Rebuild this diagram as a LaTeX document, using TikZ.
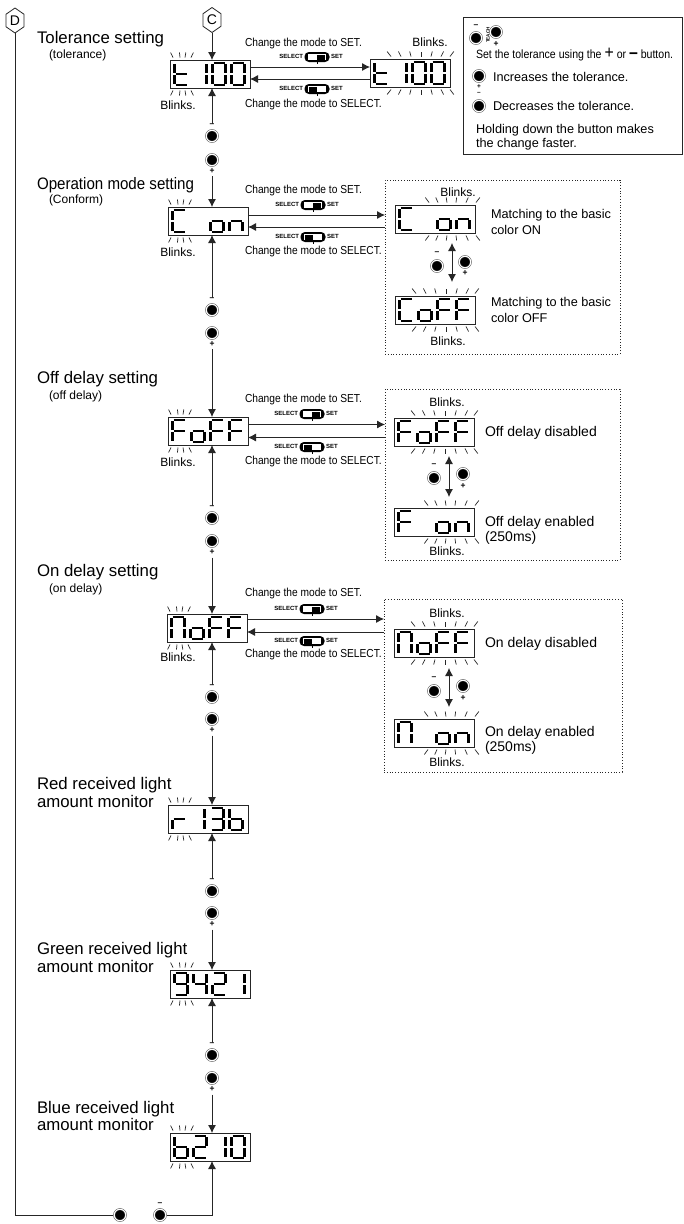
\documentclass[tikz,border=0pt]{standalone}
\usepackage{fontspec}
\setmainfont{Liberation Sans}
\newfontfamily\condfont[FakeStretch=0.88]{Liberation Sans}
\newfontfamily\condtitle[FakeStretch=0.91]{Liberation Sans}
\usetikzlibrary{arrows.meta,calc}
\tikzset{
 x=1pt,y=-1pt,
 base/.style={inner sep=0pt,outer sep=0pt},
 title/.style={base,anchor=west,font=\fontsize{16.8}{18}\selectfont},
 ctitle/.style={base,anchor=west,font=\condtitle\fontsize{16.6}{18}\selectfont},
 sub/.style={base,anchor=west,font=\fontsize{12}{14}\selectfont},
 cond/.style={base,anchor=west,font=\condfont\fontsize{11.6}{13}\selectfont},
 condb/.style={base,anchor=west,font=\condfont\fontsize{12}{13}\selectfont},
 blinks/.style={base,font=\fontsize{12}{14}\selectfont},
 desc/.style={base,anchor=west,font=\fontsize{12.7}{14}\selectfont},
 descb/.style={base,anchor=west,font=\fontsize{14}{15}\selectfont},
 sign/.style={base,font=\bfseries\fontsize{8.5}{8.5}\selectfont},
 signs/.style={base,font=\bfseries\fontsize{6.5}{6.5}\selectfont},
 swlab/.style={base,font=\bfseries\fontsize{6}{6}\selectfont},
 lcdbox/.style={base,draw=black!85,line width=.8pt,minimum width=80pt,minimum height=28pt,anchor=north west},
 lcdseg/.style={line width=2.3pt,black},
 raytick/.style={line width=.7pt,black!85},
 btn/.style={circle,fill=black,draw=black!70,double=white,double distance=1pt,line width=.5pt,minimum size=11.5pt,inner sep=0pt,outer sep=1pt},
 conn/.style={line width=.8pt,black!85},
 arr/.style={conn,-{Latex[length=8pt,width=8pt]}},
 darr/.style={conn,{Latex[length=8pt,width=8pt]}-{Latex[length=8pt,width=8pt]}},
 dotbox/.style={base,draw=black!85,line width=.8pt,dotted,anchor=north west},
 hexn/.style={base,minimum width=18pt,minimum height=25pt,font=\fontsize{14}{14}\selectfont},
}
% segments: x1 y1 x2 y2
\def\sega{1 -11 12 -11 }\def\segb{13 -10 13 -1 }\def\segc{13 1 13 10 }
\def\segd{1 11 12 11 }\def\sege{0 1 0 10 }\def\segf{0 -10 0 -1 }
\def\segg{1 0 12 0 }\def\segx{0 0 0 0 }
\def\segdraw#1 #2 #3 #4 \relax{\draw[lcdseg] (#1,#2)--(#3,#4);}
\newcommand\lcddigit[2]{\begin{scope}[shift={(#1,14)}]\foreach \s in #2 {\edef\tmp{\csname seg\s\endcsname}\expandafter\segdraw\tmp\relax}\end{scope}}
\def\chN{x}\def\cht{f,e,g,d}\def\chi{b,c}\def\chO{a,b,c,d,e,f}\def\chC{a,f,e,d}
\def\cho{g,c,d,e}\def\chn{e,g,c}\def\chF{a,f,g,e}\def\chP{a,f,b,e,c}\def\chr{e,g}
\def\chth{a,b,g,c,d}\def\chb{f,e,g,c,d}\def\chnine{a,b,c,d,f,g}\def\chfour{f,g,b,c}\def\chtwo{a,b,g,e,d}
\newcommand\lcd[7]{\node[lcdbox] (#1) at (#2,#3) {};
 \begin{scope}[shift={(#2,#3)}]\lcddigit{4.5}{#4}\lcddigit{23.5}{#5}\lcddigit{42.5}{#6}\lcddigit{61.5}{#7}\end{scope}}
% rays: name, x list, fan centre, slope
\newcommand\rays[4]{\foreach \rx in {#2}{\pgfmathsetmacro\dx{(\rx-#3)*#4}
 \draw[raytick] ($(#1.north west)+(\rx,-2.5)$) -- +(\dx,-5);
 \draw[raytick] ($(#1.south west)+(\rx,2.5)$) -- +(\dx,5);}}
\newcommand\raysL[1]{\rays{#1}{3,10,15,21}{12}{.27}}
\newcommand\raysW[1]{\rays{#1}{21,31,41,51,61,71,80}{51}{.13}}
\newcommand\raysS[1]{\rays{#1}{34,43,52,61,71,81}{57}{.16}}
\newcommand\hexagon[1]{\draw[line width=.8pt,black!85] (#1.north) -- ($(#1.north east)!.25!(#1.south east)$) -- ($(#1.north east)!.75!(#1.south east)$) -- (#1.south) -- ($(#1.south west)!.25!(#1.north west)$) -- ($(#1.south west)!.75!(#1.north west)$) -- cycle;}
\newcommand\swglyph[3]{\fill[black,rounded corners=4.4pt] (#1-12.5,#2-5) rectangle (#1+12.5,#2+5);
 \fill[white] (#1-9,#2-3) rectangle (#1+9,#2+3);
 \ifnum#3>0 \fill[black] (#1,#2-2.5) rectangle (#1+8,#2+2.5);\else \fill[black] (#1-8,#2-2.5) rectangle (#1,#2+2.5);\fi
 \draw[line width=.7pt,black] (#1,#2+4) -- (#1,#2+6.5);}
% mode labels: id, switch x, y text1, y sw1, y sw2, y text2
\newcommand\modelabels[6]{
 \node[cond] (#1ta) at (245,#3) {Change the mode to SET.};
 \swglyph{#2}{#4}{1}
 \node[swlab,anchor=east] (#1sa) at (#2-14,#4-1) {SELECT};
 \node[swlab,anchor=west] (#1ea) at (#2+14,#4-1) {SET};
 \swglyph{#2}{#5}{0}
 \node[swlab,anchor=east] (#1sb) at (#2-14,#5-1) {SELECT};
 \node[swlab,anchor=west] (#1eb) at (#2+14,#5-1) {SET};
 \node[cond] (#1tb) at (245,#6) {Change the mode to SELECT.};}
% button pair: id, y minus button, y plus button
\newcommand\btnpair[3]{
 \node[sign] (#1m) at (212,#2-11) {–};
 \node[btn] (#1a) at (212,#2) {};
 \node[btn] (#1b) at (212,#3) {};
 \node[sign] (#1p) at (212,#3+11) {+};}
% small button pair in a dotted box: id, x-, y-, x+, y+
\newcommand\smallbtn[5]{
 \node[btn] (#1a) at (#2,#3) {};
 \node[sign] (#1m) at (#2,#3-12.5) {–};
 \node[btn] (#1b) at (#4,#5) {};
 \node[sign] (#1p) at (#4,#5+11.5) {+};}
\begin{document}
\begin{tikzpicture}
\useasboundingbox (0,0) rectangle (683,1224);
\fill[white] (0,0) rectangle (683,1224);
% hexagons
\node[hexn] (D) at (15,20.5) {D}; \hexagon{D}
\node[hexn] (C) at (212,20) {C}; \hexagon{C}
% titles
\node[title] (ti1) at (37,39) {Tolerance setting};
\node[sub] (su1) at (49,55) {(tolerance)};
\node[ctitle] (ti2) at (37,185) {Operation mode setting};
\node[sub] (su2) at (49,200) {(Conform)};
\node[title] (ti3) at (37,379) {Off delay setting};
\node[sub] (su3) at (49,396) {(off delay)};
\node[title] (ti4) at (37,572) {On delay setting};
\node[sub] (su4) at (49,589) {(on delay)};
\node[title] (ti5) at (37,785) {Red received light};
\node[title] (ti5b) at (37,801) {amount monitor};
\node[title] (ti6) at (37,950) {Green received light};
\node[title] (ti6b) at (37,966) {amount monitor};
\node[title] (ti7) at (37,1109) {Blue received light};
\node[title] (ti7b) at (37,1124) {amount monitor};
% left displays
\lcd{d1}{170}{60}{\cht}{\chi}{\chO}{\chO}\raysL{d1}
\lcd{d2}{168}{207}{\chC}{\chN}{\cho}{\chn}\raysL{d2}
\lcd{d3}{168}{417}{\chF}{\cho}{\chF}{\chF}\raysL{d3}
\lcd{d4}{167}{614}{\chP}{\cho}{\chF}{\chF}\raysL{d4}
\lcd{d5}{168}{805}{\chr}{\chi}{\chth}{\chb}\raysL{d5}
\lcd{d6}{170}{970}{\chnine}{\chfour}{\chtwo}{\chi}\raysL{d6}
\lcd{d7}{170}{1133}{\chb}{\chtwo}{\chi}{\chO}\raysL{d7}
% right displays
\lcd{r1}{370}{59}{\cht}{\chi}{\chO}{\chO}\raysW{r1}
\lcd{r2}{395}{205}{\chC}{\chN}{\cho}{\chn}\raysS{r2}
\lcd{r2b}{395}{296}{\chC}{\cho}{\chF}{\chF}\raysW{r2b}
\lcd{r3}{394}{418}{\chF}{\cho}{\chF}{\chF}\raysW{r3}
\lcd{r3b}{394}{508}{\chF}{\chN}{\cho}{\chn}\raysS{r3b}
\lcd{r4}{394}{629}{\chP}{\cho}{\chF}{\chF}\raysW{r4}
\lcd{r4b}{394}{719}{\chP}{\chN}{\cho}{\chn}\raysS{r4b}
% blinks
\node[blinks] (bl1) at (178,105) {Blinks.};
\node[blinks] (bl1r) at (430,42) {Blinks.};
\node[blinks] (bl2) at (178,252) {Blinks.};
\node[blinks] (bl2a) at (458,192) {Blinks.};
\node[blinks] (bl2b) at (448,341) {Blinks.};
\node[blinks] (bl3) at (178,462) {Blinks.};
\node[blinks] (bl3a) at (447,402) {Blinks.};
\node[blinks] (bl3b) at (447,551) {Blinks.};
\node[blinks] (bl4) at (178,657) {Blinks.};
\node[blinks] (bl4a) at (447,613) {Blinks.};
\node[blinks] (bl4b) at (447,762) {Blinks.};
% dotted boxes
\node[dotbox,minimum width=235pt,minimum height=174pt] (b2) at (385,180) {};
\node[dotbox,minimum width=235pt,minimum height=171pt] (b3) at (385,389) {};
\node[dotbox,minimum width=238pt,minimum height=173pt] (b4) at (384,599) {};
% descriptions
\node[desc] (x2a) at (491,215) {Matching to the basic};
\node[desc] (x2b) at (491,230) {color ON};
\node[desc] (x2c) at (491,303) {Matching to the basic};
\node[desc] (x2d) at (491,318) {color OFF};
\node[descb] (x3a) at (485,433) {Off delay disabled};
\node[descb] (x3b) at (485,523) {Off delay enabled};
\node[descb] (x3c) at (485,538) {(250ms)};
\node[descb] (x4a) at (485,644) {On delay disabled};
\node[descb] (x4b) at (485,733) {On delay enabled};
\node[descb] (x4c) at (485,748) {(250ms)};
% mode labels
\modelabels{m1}{317}{43}{57}{89}{104}
\modelabels{m2}{313}{190}{205}{237}{251}
\modelabels{m3}{312}{399}{414}{447}{461}
\modelabels{m4}{312}{593}{609}{641}{654}
% horizontal arrows
\draw[arr] ([yshift=7pt]d1.east) -- ([yshift=7pt]d1.east -| r1.west);
\draw[arr] ([yshift=-5pt]d1.east -| r1.west) -- ([yshift=-5pt]d1.east);
\draw[arr] ([yshift=6pt]d2.east) -- ([yshift=6pt]d2.east -| b2.west);
\draw[arr] ([yshift=-6pt]d2.east -| b2.west) -- ([yshift=-6pt]d2.east);
\draw[arr] ([yshift=6.5pt]d3.east) -- ([yshift=6.5pt]d3.east -| b3.west);
\draw[arr] ([yshift=-6.5pt]d3.east -| b3.west) -- ([yshift=-6.5pt]d3.east);
\draw[arr] ([yshift=9pt]d4.east) -- ([yshift=9pt]d4.east -| b4.west);
\draw[arr] ([yshift=-4pt]d4.east -| b4.west) -- ([yshift=-4pt]d4.east);
% button pairs
\btnpair{p1}{136}{160}
\btnpair{p2}{310}{333}
\btnpair{p3}{518}{541}
\btnpair{p4}{697}{719}
\btnpair{p5}{891}{913}
\btnpair{p6}{1055}{1078}
% vertical arrows
\draw[arr] (C.south) -- (C.south |- d1.north);
\draw[arr] (p1m.north) -- (p1m.north |- d1.south);
\draw[arr] ([yshift=-3pt]p1p.south) -- (p1p.south |- d2.north);
\draw[arr] (p2m.north) -- (p2m.north |- d2.south);
\draw[arr] ([yshift=-3pt]p2p.south) -- (p2p.south |- d3.north);
\draw[arr] (p3m.north) -- (p3m.north |- d3.south);
\draw[arr] ([yshift=-3pt]p3p.south) -- (p3p.south |- d4.north);
\draw[arr] (p4m.north) -- (p4m.north |- d4.south);
\draw[arr] ([yshift=-3pt]p4p.south) -- (p4p.south |- d5.north);
\draw[arr] (p5m.north) -- (p5m.north |- d5.south);
\draw[arr] ([yshift=-3pt]p5p.south) -- (p5p.south |- d6.north);
\draw[arr] (p6m.north) -- (p6m.north |- d6.south);
\draw[arr] ([yshift=-3pt]p6p.south) -- (p6p.south |- d7.north);
% box-internal toggles
\smallbtn{q2}{437}{266}{465}{262}
\smallbtn{q3}{434}{478}{463}{474}
\smallbtn{q4}{434}{691}{463}{686}
\draw[darr] ([xshift=17pt,yshift=-10pt]r2.south) -- ([xshift=17pt,yshift=14pt]r2b.north);
\draw[darr] ([xshift=15pt,yshift=-10pt]r3.south) -- ([xshift=15pt,yshift=11pt]r3b.north);
\draw[darr] ([xshift=15pt,yshift=-11pt]r4.south) -- ([xshift=15pt,yshift=12pt]r4b.north);
% bottom
\node[btn] (bL) at (120,1215) {};
\node[btn] (bR) at (160,1215) {};
\node[sign] (bRm) at (160,1204) {–};
\draw[arr] (bR.east) -| (d7.south -| p6p);
\draw[conn,line width=1pt] (D.south) |- (bL.west);
% legend
\node[base,draw=black!85,line width=.9pt,anchor=north west,minimum width=219pt,minimum height=137pt] (leg) at (463,17) {};
\node[btn] (lb1) at (476,38) {};
\node[sign] (lb1m) at (476,26.5) {–};
\node[base,rotate=90,font=\bfseries\fontsize{4.6}{4.6}\selectfont] (lt) at (488,35) {TEACH};
\node[btn] (lb2) at (496,32) {};
\node[sign] (lb2p) at (496,44.5) {+};
\node[condb] (l1) at (476,55) {Set the tolerance using the {\fontsize{18}{18}\selectfont +} or {\fontsize{18}{18}\bfseries\selectfont –} button.};
\node[btn] (lb3) at (479,76) {};
\node[desc] (l2) at (493,77) {Increases the tolerance.};
\node[signs] (l3p) at (479,86.5) {+};
\node[signs] (l3m) at (479,93.5) {–};
\node[btn] (lb4) at (479,106) {};
\node[desc] (l3) at (493,106) {Decreases the tolerance.};
\node[desc] (l4) at (476,130) {Holding down the button makes};
\node[desc] (l5) at (476,144) {the change faster.};
\end{tikzpicture}
\end{document}
